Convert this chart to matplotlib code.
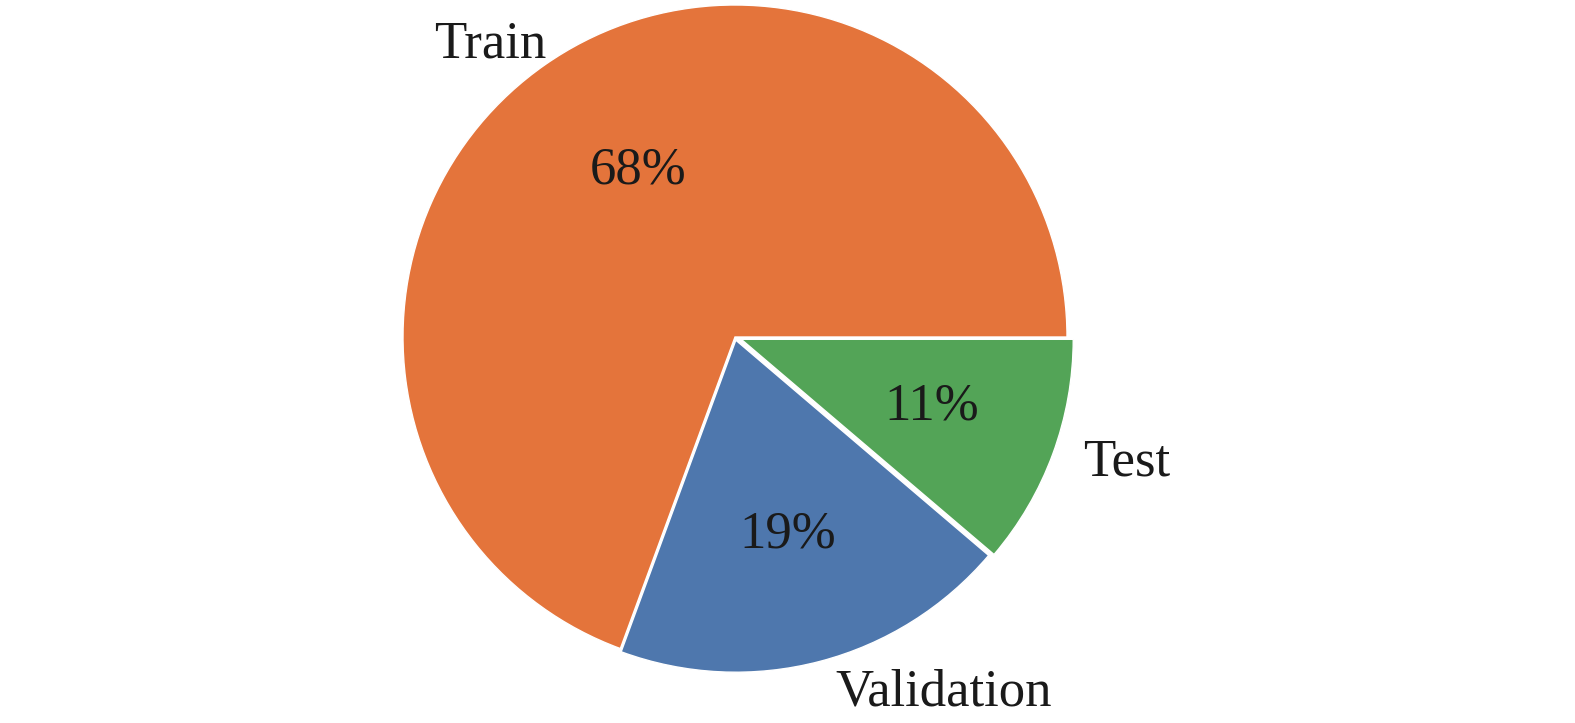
"""
Pie chart of the dataset split: Train / Validation / Test.
"""
import matplotlib
matplotlib.use('Agg')
import matplotlib.pyplot as plt

# Data (labels show the stated percentages).
labels = ['Test', 'Validation', 'Train']
shares = [11, 19, 68]
colors = ['#53A457', '#4E77AD', '#E4743B']
explode = [0.02, 0.01, 0.0]

# Label placement (pixels of the 1575x723 image, baseline of the text).
name_pos_px = [(1127, 476), (944, 705), (490, 58)]
pct_pos_px = [(932, 420), (788, 548), (638, 183)]

W, H, DPI = 1575, 723, 100
CX, CY, R = 735, 337, 332   # pie centre and radius in pixels

plt.rcParams['font.family'] = ['Liberation Serif', 'DejaVu Serif']

fig = plt.figure(figsize=(W / DPI, H / DPI), dpi=DPI)
ax = fig.add_axes([0, 0, 1, 1])

total = sum(shares)
wedges, texts, autotexts = ax.pie(
    shares,
    colors=colors,
    explode=explode,
    startangle=0,
    counterclock=False,
    autopct=lambda p: f'{p * total / 100:.0f}%',
    wedgeprops=dict(edgecolor='white', linewidth=1.0),
)


def to_data(px, py):
    return (px - CX) / R, (CY - py) / R


for t, (px, py) in zip(autotexts, pct_pos_px):
    t.set_position(to_data(px, py))
    t.set(ha='center', va='baseline', fontsize=38, color='#1a1a1a')

for name, (px, py) in zip(labels, name_pos_px):
    x, y = to_data(px, py)
    ax.text(x, y, name, ha='center', va='baseline', fontsize=38, color='#1a1a1a')

ax.set_aspect('auto')
ax.set_xlim(-CX / R, (W - CX) / R)
ax.set_ylim((CY - H) / R, CY / R)
ax.axis('off')

plt.savefig('out.png', dpi=DPI)
